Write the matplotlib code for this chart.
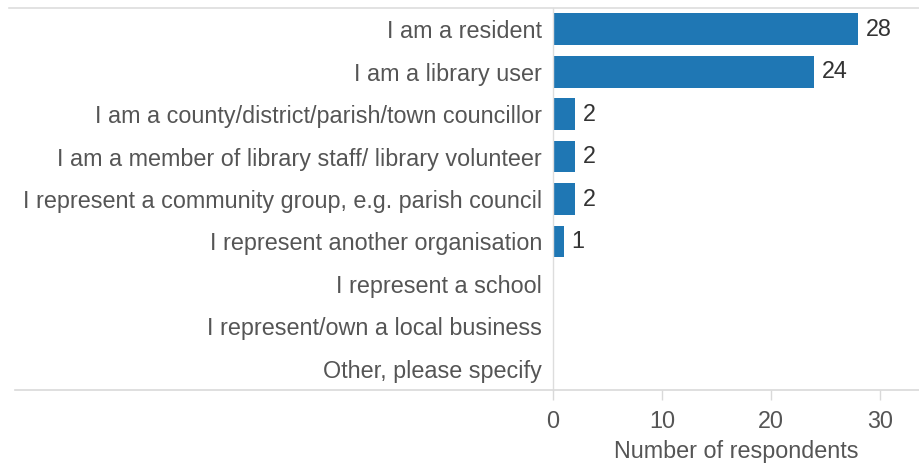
import matplotlib.pyplot as plt
from matplotlib.lines import Line2D

plt.rcParams['font.family'] = ['Liberation Sans', 'DejaVu Sans']

categories = [
    "I am a resident",
    "I am a library user",
    "I am a county/district/parish/town councillor",
    "I am a member of library staff/ library volunteer",
    "I represent a community group, e.g. parish council",
    "I represent another organisation",
    "I represent a school",
    "I represent/own a local business",
    "Other, please specify",
]
counts = [28, 24, 2, 2, 2, 1, 0, 0, 0]
xticks = [0, 10, 20, 30]

FS = 16.8
W, H = 919, 465
fig = plt.figure(figsize=(W / 100, H / 100), dpi=100)
ax = fig.add_axes([553 / W, 1 - 390 / H, (919 - 553) / W, (390 - 8) / H])

ypos = list(range(len(categories)))
ax.barh(ypos, counts, height=0.75, color='#1f77b4')
for y, v in zip(ypos, counts):
    if v > 0:
        ax.text(v + 0.7, y, str(v), va='center', ha='left', fontsize=FS, color='#333333')

ax.set_ylim(len(categories) - 0.5, -0.5)
ax.set_xlim(0, 33.6)
ax.set_yticks(ypos)
ax.set_yticklabels(categories, fontsize=FS, color='#555555')
ax.set_xticks(xticks)
ax.set_xticklabels([str(t) for t in xticks], fontsize=FS, color='#555555')
ax.tick_params(axis='y', length=0, pad=8)
ax.tick_params(axis='x', length=7.5, width=1, color='#d9d9d9', pad=7, direction='out')
ax.set_xlabel("Number of respondents", fontsize=FS, color='#555555', labelpad=5)

for s in ['top', 'right', 'bottom']:
    ax.spines[s].set_visible(False)
ax.spines['left'].set_color('#dddddd')
ax.spines['left'].set_linewidth(1)

# full-width rules above and below the plot
fig.add_artist(Line2D([9 / W, 1], [1 - 8 / H, 1 - 8 / H], color='#dddddd', lw=1.2))
fig.add_artist(Line2D([15 / W, 1], [1 - 390 / H, 1 - 390 / H], color='#d9d9d9', lw=1.2))

fig.savefig('out.png', dpi=100)
